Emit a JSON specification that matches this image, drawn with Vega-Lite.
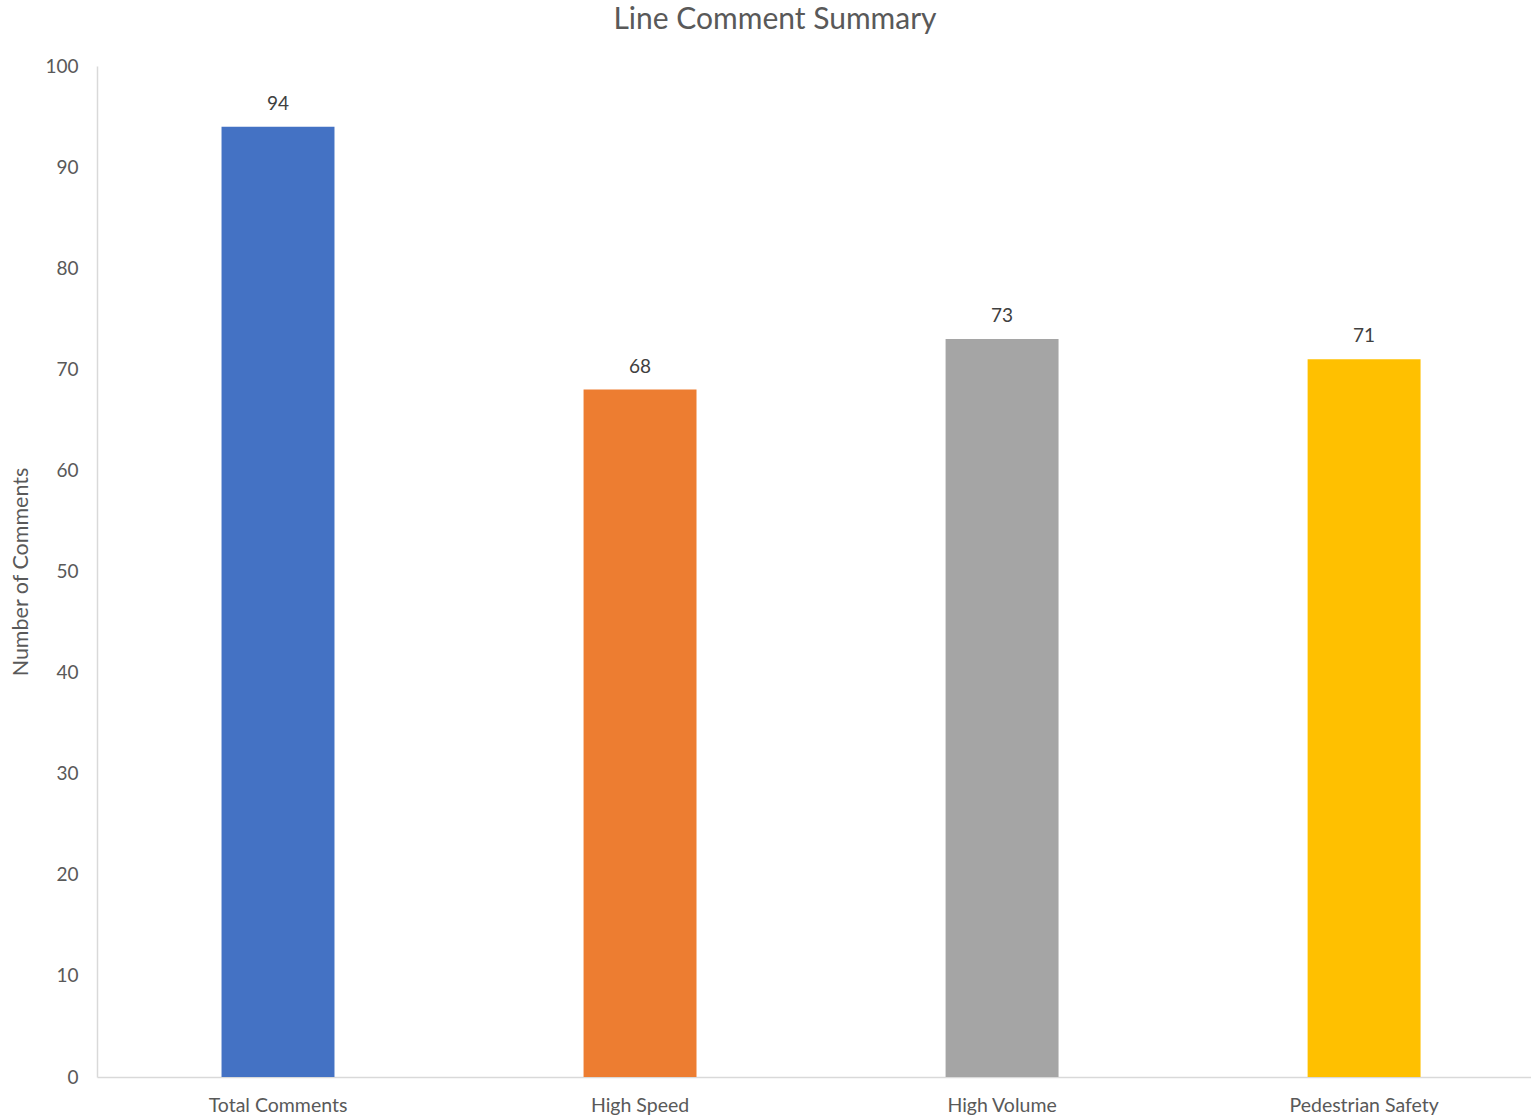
{
  "$schema": "https://vega.github.io/schema/vega-lite/v6.json",
  "autosize": "none",
  "width": 1434,
  "height": 1011,
  "padding": {"left": 97, "top": 66, "right": 0, "bottom": 40},
  "background": "white",
  "config": {"view": {"stroke": null}, "font": "Lato"},
  "title": {
    "text": "Line Comment Summary",
    "fontSize": 30,
    "font": "Lato",
    "fontWeight": "normal",
    "color": "#595959",
    "anchor": "middle",
    "baseline": "bottom",
    "offset": 0,
    "dy": 8,
    "dx": -39
  },
  "data": {
    "values": [
      {"category": "Total Comments", "count": 94},
      {"category": "High Speed", "count": 68},
      {"category": "High Volume", "count": 73},
      {"category": "Pedestrian Safety", "count": 71}
    ]
  },
  "encoding": {
    "x": {
      "field": "category",
      "type": "nominal",
      "sort": null,
      "scale": {"paddingInner": 0.688, "paddingOuter": 0.3245, "align": 0.53},
      "axis": {
        "title": null,
        "labelAngle": 0,
        "labelFontSize": 19.5,
        "labelColor": "#595959",
        "labelPadding": 19,
        "ticks": false,
        "domainColor": "#d9d9d9",
        "domainWidth": 1.5
      }
    },
    "y": {
      "field": "count",
      "type": "quantitative",
      "scale": {"domain": [0, 100]},
      "axis": {
        "title": "Number of Comments",
        "titleFontSize": 21.5,
        "titleFontWeight": "normal",
        "titleColor": "#595959",
        "titlePadding": 12,
        "values": [0, 10, 20, 30, 40, 50, 60, 70, 80, 90, 100],
        "labelFontSize": 19,
        "labelColor": "#595959",
        "labelPadding": 19,
        "ticks": false,
        "grid": false,
        "domainColor": "#d9d9d9",
        "domainWidth": 1.5
      }
    }
  },
  "layer": [
    {
      "mark": {"type": "bar"},
      "encoding": {
        "color": {
          "field": "category",
          "type": "nominal",
          "sort": null,
          "scale": {
            "domain": ["Total Comments", "High Speed", "High Volume", "Pedestrian Safety"],
            "range": ["#4472C4", "#ED7D31", "#A5A5A5", "#FFC000"]
          },
          "legend": null
        }
      }
    },
    {
      "mark": {"type": "text", "baseline": "alphabetic", "dy": -17, "fontSize": 19, "color": "#404040"},
      "encoding": {"text": {"field": "count", "type": "quantitative"}}
    }
  ]
}
